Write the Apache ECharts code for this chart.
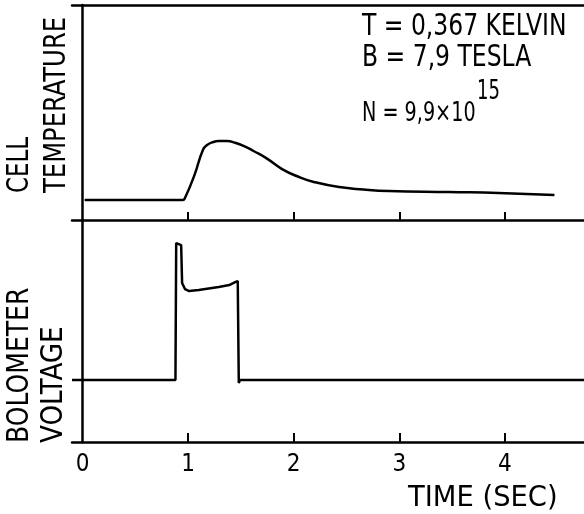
<!DOCTYPE html>
<html>
<head>
<meta charset="utf-8">
<script src="https://cdn.jsdelivr.net/npm/echarts@6/dist/echarts.min.js"></script>
<style>
  html, body { margin: 0; padding: 0; background: #fff; }
  #chart { width: 584px; height: 514px; }
</style>
</head>
<body>
<div id="chart"></div>
<script>
// cell temperature trace (arbitrary units, time in sec)
var tempTime = [0.02, 0.95, 0.97, 1.06, 1.14, 1.18, 1.24, 1.29, 1.37, 1.44, 1.53, 1.62, 1.74, 1.89, 2.05, 2.19, 2.43, 2.66, 2.90, 3.47, 3.94, 4.47];
var tempValue = [0.93, 0.93, 1.02, 2.09, 3.26, 3.49, 3.63, 3.67, 3.67, 3.60, 3.44, 3.21, 2.88, 2.37, 2.00, 1.77, 1.53, 1.42, 1.35, 1.30, 1.26, 1.16];

// bolometer voltage trace (arbitrary units)
var voltTime = [-0.1, 0.88, 0.887, 0.934, 0.943, 0.97, 1.01, 1.10, 1.29, 1.39, 1.45, 1.47, 1.48, 1.49, 4.75];
var voltValue = [2.79, 2.79, 8.96, 8.87, 7.16, 6.89, 6.80, 6.85, 6.98, 7.07, 7.21, 7.25, 2.66, 2.79, 2.79];

var tickLabels = [0, 1, 2, 3, 4];
var tickMarks = [1, 2, 3, 4];

var FONT = '"Liberation Sans Narrow", "DejaVu Sans Condensed", sans-serif';
var LINE = { color: "#000", width: 2.5 };

function pairs(xs, ys) {
  return xs.map(function (x, i) { return [x, ys[i]]; });
}

// lettering is narrower than the installed fonts, so squeeze along the text
function label(text, x, y, size, squeeze, rotate) {
  return {
    type: "text",
    x: x,
    y: y,
    rotation: rotate ? Math.PI / 2 : 0,
    scaleX: squeeze,
    style: {
      text: text,
      fontSize: size,
      fontFamily: FONT,
      fill: "#000",
      textAlign: "left",
      align: "left",
      textVerticalAlign: rotate ? "middle" : "bottom",
      verticalAlign: rotate ? "middle" : "bottom"
    }
  };
}

var chart = echarts.init(document.getElementById("chart"));

var option = {
  backgroundColor: "#fff",
  animation: false,
  grid: [
    { left: 72, top: 5, width: 512, height: 215 },
    { left: 72, top: 220, width: 512, height: 222 }
  ],
  xAxis: [
    {
      gridIndex: 0, type: "value", min: -0.1, max: 4.75, position: "bottom",
      axisLine: { lineStyle: LINE },
      axisTick: { show: true, inside: true, length: 8, customValues: tickMarks, lineStyle: { color: "#000", width: 2 } },
      axisLabel: { show: false },
      splitLine: { show: false }
    },
    {
      gridIndex: 0, type: "value", min: -0.1, max: 4.75, position: "top",
      axisLine: { lineStyle: LINE },
      axisTick: { show: false }, axisLabel: { show: false }, splitLine: { show: false }
    },
    {
      gridIndex: 1, type: "value", min: -0.1, max: 4.75, position: "bottom",
      axisLine: { lineStyle: LINE },
      axisTick: { show: true, inside: true, length: 9, customValues: tickMarks, lineStyle: { color: "#000", width: 2 } },
      axisLabel: { show: true, customValues: tickLabels, color: "#000", fontSize: 24, fontFamily: FONT, margin: 11 },
      splitLine: { show: false }
    }
  ],
  yAxis: [
    {
      gridIndex: 0, type: "value", min: 0, max: 10,
      axisLine: { show: true, lineStyle: LINE },
      axisTick: { show: false }, axisLabel: { show: false }, splitLine: { show: false }
    },
    {
      gridIndex: 1, type: "value", min: 0, max: 10,
      axisLine: { show: true, lineStyle: LINE },
      axisTick: { show: false }, axisLabel: { show: false }, splitLine: { show: false }
    }
  ],
  series: [
    {
      name: "Cell temperature",
      type: "line",
      xAxisIndex: 0, yAxisIndex: 0,
      data: pairs(tempTime, tempValue),
      smooth: 0.5,
      symbol: "none",
      lineStyle: { color: "#000", width: 2.5 }
    },
    {
      name: "Bolometer voltage",
      type: "line",
      xAxisIndex: 2, yAxisIndex: 1,
      data: pairs(voltTime, voltValue),
      symbol: "none",
      lineStyle: { color: "#000", width: 2.5 }
    }
  ],
  graphic: [
    label("CELL", 20, 193, 31, 0.82, true),
    label("TEMPERATURE", 57, 193, 31, 0.87, true),
    label("BOLOMETER", 20, 443, 31, 0.9, true),
    label("VOLTAGE", 54, 443, 31, 0.94, true),
    label("T = 0,367 KELVIN", 362, 42, 30, 0.87, false),
    label("B = 7,9 TESLA", 362, 73, 30, 0.87, false),
    label("N = 9,9\u00d710", 362, 127, 27, 0.79, false),
    label("15", 477, 105, 26, 0.77, false),
    label("TIME (SEC)", 408, 513, 29, 1.05, false)
  ]
};

chart.setOption(option);
</script>
</body>
</html>
